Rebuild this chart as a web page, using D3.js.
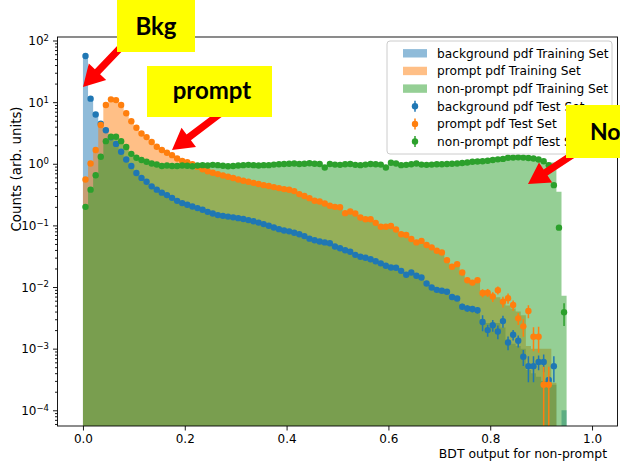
<!DOCTYPE html>
<html>
<head>
<meta charset="utf-8">
<script src="https://cdn.jsdelivr.net/npm/d3@7"></script>
<style>
  body { margin: 0; background: #fff; }
  svg { display: block; }
</style>
</head>
<body>
<div id="chart"></div>
<script>
// 100 bins of width 0.01 on [0, 1]; values per bin (index 0 = [0, 0.01))
const binWidth = 0.01;

const bkgTest = [56, 11.4, 6.3, 4.46, 3.5, 2.7, 2.1, 1.57, 1.17, 0.92,
  0.71, 0.59, 0.51, 0.43, 0.38, 0.34, 0.31, 0.28, 0.25, 0.23,
  0.216, 0.203, 0.191, 0.179, 0.166, 0.156, 0.147, 0.143, 0.139, 0.135,
  0.131, 0.127, 0.122, 0.117, 0.111, 0.105, 0.0986, 0.0925, 0.087, 0.0827,
  0.08, 0.076, 0.072, 0.067, 0.061, 0.0573, 0.0548, 0.053, 0.0513, 0.0454,
  0.0425, 0.0395, 0.0373, 0.0333, 0.031, 0.0298, 0.0282, 0.0262, 0.0242, 0.0222,
  0.0208, 0.0205, 0.0183, 0.0158, 0.0172, 0.0152, 0.0143, 0.0114, 0.0098, 0.009,
  0.0087, 0.0084, 0.0069, 0.0065, 0.0048, 0.0045, 0.0044, 0.0042, 0.0027, 0.002,
  0.0024, 0.0019, 0.0028, 0.00126, 0.00168, 0.00134, 0.00074, 0.00052, 0.00052, 0.00061,
  0.00061, 0.00031, 0.00052, 0, 0];

const promptTest = [0.556, 1.01, 1.67, 4.25, 9.0, 11.1, 10.8, 9.0, 6.6, 4.9,
  3.84, 3.1, 2.71, 2.25, 1.89, 1.67, 1.51, 1.38, 1.22, 1.11,
  1.06, 0.98, 0.894, 0.814, 0.756, 0.714, 0.68, 0.646, 0.615, 0.586,
  0.556, 0.53, 0.51, 0.49, 0.47, 0.45, 0.435, 0.418, 0.403, 0.388,
  0.378, 0.36, 0.322, 0.30, 0.277, 0.251, 0.244, 0.227, 0.208, 0.2,
  0.197, 0.158, 0.168, 0.156, 0.134, 0.126, 0.126, 0.11, 0.095, 0.095,
  0.098, 0.086, 0.072, 0.070, 0.060, 0.053, 0.056, 0.048, 0.044, 0.0387,
  0.0363, 0.0273, 0.0213, 0.0235, 0.0172, 0.0129, 0.0118, 0.0129, 0.008, 0.0081,
  0.007, 0.0089, 0.0058, 0.0066, 0.0051, 0.0031, 0.0023, 0.0041, 0.00156, 0.00156,
  0.00026, 0.00026, 0, 0, 0];

const nonpromptTest = [0.2, 0.38, 0.65, 1.3, 2.33, 2.74, 2.74, 2.33, 1.87, 1.45,
  1.25, 1.15, 1.08, 1.01, 0.975, 0.92, 0.94, 0.92, 0.92, 0.94,
  0.93, 0.91, 0.94, 0.95, 0.94, 0.96, 0.95, 0.93, 0.91, 0.92,
  0.94, 0.95, 0.96, 0.95, 0.94, 0.95, 0.95, 0.97, 0.98, 0.99,
  1.0, 1.01, 0.99, 1.0, 1.02, 1.0, 0.99, 0.87, 0.99, 0.97,
  0.96, 0.98, 0.99, 0.96, 0.95, 0.97, 0.99, 0.98, 0.97, 0.87,
  1.04, 1.01, 0.95, 0.96, 0.98, 1.01, 0.97, 0.96, 0.97, 0.98,
  0.98, 0.99, 1.0, 1.01, 1.03, 1.05, 1.08, 1.09, 1.1, 1.12,
  1.15, 1.18, 1.2, 1.25, 1.26, 1.27, 1.26, 1.24, 1.22, 1.17,
  1.1, 0.95, 0.45, 0.092, 0.0039];

const bkgTrain = [56, 11.4, 6.3, 4.46, 3.5, 2.7, 2.1, 1.57, 1.17, 0.92,
  0.71, 0.59, 0.51, 0.43, 0.38, 0.34, 0.31, 0.28, 0.25, 0.23,
  0.216, 0.203, 0.191, 0.179, 0.166, 0.156, 0.147, 0.143, 0.139, 0.135,
  0.131, 0.127, 0.122, 0.117, 0.111, 0.105, 0.0986, 0.0925, 0.087, 0.0827,
  0.08, 0.076, 0.072, 0.067, 0.061, 0.0573, 0.0548, 0.053, 0.0513, 0.0454,
  0.0425, 0.0395, 0.0373, 0.0333, 0.031, 0.0298, 0.0282, 0.0262, 0.0242, 0.0222,
  0.0208, 0.0205, 0.0183, 0.0165, 0.0165, 0.0152, 0.0143, 0.0114, 0.0098, 0.009,
  0.0088, 0.0082, 0.0072, 0.0064, 0.0052, 0.0047, 0.0043, 0.004, 0.003, 0.0026,
  0.0025, 0.0026, 0.0022, 0.0014, 0.0012, 0.0011, 0.001, 0.00045, 0.0004, 0.00035,
  0.0003, 0.0003, 0.00026, 0, 0.0001];

const promptTrain = [0.556, 1.01, 1.67, 4.25, 9.0, 11.1, 10.8, 9.0, 6.6, 4.9,
  3.84, 3.1, 2.71, 2.25, 1.89, 1.67, 1.51, 1.38, 1.22, 1.11,
  1.06, 0.98, 0.894, 0.814, 0.756, 0.714, 0.68, 0.646, 0.615, 0.586,
  0.556, 0.53, 0.51, 0.49, 0.47, 0.45, 0.435, 0.418, 0.403, 0.388,
  0.378, 0.36, 0.322, 0.30, 0.277, 0.251, 0.244, 0.227, 0.208, 0.2,
  0.197, 0.158, 0.168, 0.156, 0.134, 0.126, 0.126, 0.11, 0.095, 0.095,
  0.098, 0.086, 0.072, 0.070, 0.060, 0.053, 0.056, 0.048, 0.044, 0.0387,
  0.036, 0.029, 0.023, 0.022, 0.018, 0.0135, 0.012, 0.012, 0.0088, 0.0082,
  0.0072, 0.0068, 0.006, 0.005, 0.0045, 0.004, 0.0035, 0.0011, 0.001, 0.001,
  0.001, 0.001, 0.00028, 0, 0];

const nonpromptTrain = [0.2, 0.38, 0.65, 1.3, 2.33, 2.74, 2.74, 2.33, 1.87, 1.45,
  1.25, 1.15, 1.08, 1.01, 0.975, 0.92, 0.94, 0.92, 0.92, 0.94,
  0.93, 0.92, 0.94, 0.95, 0.94, 0.95, 0.95, 0.93, 0.92, 0.92,
  0.94, 0.95, 0.96, 0.95, 0.94, 0.95, 0.95, 0.97, 0.98, 0.99,
  1.0, 1.01, 0.99, 1.0, 1.01, 1.0, 0.99, 0.95, 0.99, 0.97,
  0.96, 0.98, 0.99, 0.96, 0.95, 0.97, 0.99, 0.98, 0.97, 0.95,
  1.0, 1.0, 0.97, 0.96, 0.98, 1.0, 0.97, 0.96, 0.97, 0.98,
  0.98, 0.99, 1.0, 1.01, 1.03, 1.05, 1.08, 1.09, 1.1, 1.12,
  1.15, 1.18, 1.2, 1.25, 1.26, 1.27, 1.26, 1.24, 1.22, 1.17,
  1.1, 1.05, 1.05, 0.35, 0.0072];

// relative errors of the test points, from bin errStart onward (smaller ones hide under the markers)
const errStart = 70;
const bkgErr = [0.08, 0.08, 0.09, 0.09, 0.12, 0.12, 0.12, 0.12, 0.29, 0.22,
  0.22, 0.25, 0.22, 0.25, 0.19, 0.22, 0.29, 0.45, 0.45, 0.27,
  0.32, 0.15, 0.45, 0, 0];
const promptErr = [0.07, 0.07, 0.08, 0.08, 0.1, 0.1, 0.1, 0.1, 0.15, 0.15,
  0.18, 0.15, 0.2, 0.19, 0.19, 0.22, 0.32, 0.24, 0.42, 0.45,
  0.95, 0.95, 0, 0, 0];
const nonpromptErr = [0.02, 0.02, 0.02, 0.02, 0.02, 0.02, 0.02, 0.02, 0.02, 0.02,
  0.02, 0.02, 0.02, 0.02, 0.02, 0.02, 0.02, 0.02, 0.02, 0.02,
  0.02, 0.02, 0.03, 0.06, 0.4];

const xTicks = [0.0, 0.2, 0.4, 0.6, 0.8, 1.0];
const yTickExps = [-4, -3, -2, -1, 0, 1, 2];

const series = [
  {name: "background", color: "#1f77b4", train: bkgTrain, test: bkgTest, err: bkgErr},
  {name: "prompt", color: "#ff7f0e", train: promptTrain, test: promptTest, err: promptErr},
  {name: "non-prompt", color: "#2ca02c", train: nonpromptTrain, test: nonpromptTest, err: nonpromptErr}
];

const width = 620, height = 461;
const margin = {left: 57.5, right: 2.5, top: 37, bottom: 35};
const font = "'DejaVu Sans', sans-serif";

const svg = d3.select("#chart").append("svg")
  .attr("width", width).attr("height", height)
  .style("background", "#fff");

const x = d3.scaleLinear().domain([-0.05, 1.05])
  .range([margin.left, width - margin.right]);
const y = d3.scaleLog().domain([Math.pow(10, -4.255), Math.pow(10, 2.057)])
  .range([height - margin.bottom, margin.top]);

const plotBottom = height - margin.bottom;
const below = plotBottom + 20;

svg.append("clipPath").attr("id", "plot")
  .append("rect")
  .attr("x", margin.left).attr("y", margin.top)
  .attr("width", width - margin.left - margin.right)
  .attr("height", plotBottom - margin.top);

const plot = svg.append("g").attr("clip-path", "url(#plot)");

// training histograms as one step outline each
function histPath(vals) {
  let d = `M${x(0)},${below}`;
  vals.forEach((v, i) => {
    const top = v > 0 ? y(v) : below;
    d += `V${top}H${x((i + 1) * binWidth)}`;
  });
  return d + `V${below}Z`;
}

series.forEach(s => {
  plot.append("path")
    .attr("d", histPath(s.train))
    .attr("fill", s.color)
    .attr("fill-opacity", 0.5);
});

// test points with error bars
series.forEach(s => {
  const pts = s.test.map((v, i) => ({
    v, i, r: i >= errStart ? s.err[i - errStart] : 0
  })).filter(d => d.v > 0);
  const g = plot.append("g");
  g.selectAll("line").data(pts.filter(d => d.r > 0)).join("line")
    .attr("x1", d => x((d.i + 0.5) * binWidth))
    .attr("x2", d => x((d.i + 0.5) * binWidth))
    .attr("y1", d => d.v * (1 - d.r) > 0 ? y(d.v * (1 - d.r)) : below)
    .attr("y2", d => y(d.v * (1 + d.r)))
    .attr("stroke", s.color)
    .attr("stroke-width", 1.5);
  g.selectAll("circle").data(pts).join("circle")
    .attr("cx", d => x((d.i + 0.5) * binWidth))
    .attr("cy", d => y(d.v))
    .attr("r", 3.2)
    .attr("fill", s.color);
});

// axes
svg.append("g")
  .attr("transform", `translate(0,${plotBottom})`)
  .call(d3.axisBottom(x).tickValues(xTicks).tickFormat(d3.format(".1f"))
    .tickSize(4.5).tickPadding(4));

const minorTicks = [];
for (let e = -5; e <= 2; e++) {
  for (let m = 2; m <= 9; m++) {
    const v = m * Math.pow(10, e);
    if (v > y.domain()[0] && v < y.domain()[1]) minorTicks.push(v);
  }
}
svg.append("g")
  .attr("transform", `translate(${margin.left},0)`)
  .call(d3.axisLeft(y).tickValues(minorTicks).tickFormat("").tickSize(2.5));

const yAxis = svg.append("g")
  .attr("transform", `translate(${margin.left},0)`)
  .call(d3.axisLeft(y).tickValues(yTickExps.map(e => Math.pow(10, e)))
    .tickFormat("").tickSize(4.5).tickPadding(4));

yAxis.selectAll(".tick text").each(function(d) {
  const e = Math.round(Math.log10(d));
  const t = d3.select(this).attr("dy", "0.35em");
  t.append("tspan").text("10");
  t.append("tspan").attr("dy", "-0.5em").attr("font-size", 8.5)
    .text(e < 0 ? "\u2212" + (-e) : String(e));
});

svg.selectAll(".domain").remove();
svg.selectAll(".tick line").attr("stroke", "#000").attr("stroke-width", 0.9);
svg.selectAll(".tick text").attr("fill", "#000").style("font-family", font).attr("font-size", 12);

// spines
svg.append("rect")
  .attr("x", margin.left).attr("y", margin.top)
  .attr("width", width - margin.left - margin.right)
  .attr("height", plotBottom - margin.top)
  .attr("fill", "none").attr("stroke", "#000").attr("stroke-width", 0.9);

// axis labels
svg.append("text")
  .attr("x", 607).attr("y", 458)
  .attr("text-anchor", "end")
  .style("font-family", font).attr("font-size", 12.4)
  .text("BDT output for non-prompt");

svg.append("text")
  .attr("transform", `translate(21,${(margin.top + plotBottom) / 2}) rotate(-90)`)
  .attr("text-anchor", "start")
  .style("font-family", font).attr("font-size", 13.4)
  .text("Counts (arb. units)");

// legend
const legend = svg.append("g");
legend.append("rect")
  .attr("x", 387).attr("y", 41).attr("width", 225).attr("height", 113)
  .attr("rx", 3)
  .attr("fill", "#fff").attr("fill-opacity", 0.8)
  .attr("stroke", "#cccccc").attr("stroke-width", 1);

const legendItems = [];
series.forEach(s => legendItems.push({kind: "patch", color: s.color, label: `${s.name} pdf Training Set`}));
series.forEach(s => legendItems.push({kind: "point", color: s.color, label: `${s.name} pdf Test Set`}));

legendItems.forEach((item, k) => {
  const cy = 53.3 + k * 17.65;
  if (item.kind === "patch") {
    legend.append("rect")
      .attr("x", 403).attr("y", cy - 4.2).attr("width", 24).attr("height", 8.4)
      .attr("fill", item.color).attr("fill-opacity", 0.5);
  } else {
    legend.append("line")
      .attr("x1", 415).attr("x2", 415).attr("y1", cy - 5.5).attr("y2", cy + 5.5)
      .attr("stroke", item.color).attr("stroke-width", 1.5);
    legend.append("circle")
      .attr("cx", 415).attr("cy", cy).attr("r", 3.2).attr("fill", item.color);
  }
  legend.append("text")
    .attr("x", 437).attr("y", cy).attr("dy", "0.35em")
    .style("font-family", font).attr("font-size", 12.2)
    .text(item.label);
});

// overlaid annotations: red arrows under yellow labels
function arrowPoints(tail, tip, w, hw, hl) {
  const dx = tip[0] - tail[0], dy = tip[1] - tail[1];
  const len = Math.hypot(dx, dy);
  const ux = dx / len, uy = dy / len, nx = -uy, ny = ux;
  const bx = tip[0] - ux * hl, by = tip[1] - uy * hl;
  return [
    [tail[0] + nx * w, tail[1] + ny * w],
    [bx + nx * w, by + ny * w],
    [bx + nx * hw, by + ny * hw],
    tip,
    [bx - nx * hw, by - ny * hw],
    [bx - nx * w, by - ny * w],
    [tail[0] - nx * w, tail[1] - ny * w]
  ];
}

const notes = [
  {text: "Bkg", box: [117, 0, 78, 52], tx: 156, ty: 35, anchor: "middle", size: 24, tail: [124, 44], tip: [83, 87]},
  {text: "prompt", box: [147, 66, 125, 51], tx: 212, ty: 99, anchor: "middle", size: 24, tail: [225, 110], tip: [172, 150]},
  {text: "No", box: [566, 105, 60, 53], tx: 590, ty: 140, anchor: "start", size: 23, tail: [586, 146], tip: [528, 184]}
];

notes.forEach(n => {
  svg.append("polygon")
    .attr("points", arrowPoints(n.tail, n.tip, 3.6, 12, 21).map(p => p.join(",")).join(" "))
    .attr("fill", "#ff0000");
});
notes.forEach(n => {
  svg.append("rect")
    .attr("x", n.box[0]).attr("y", n.box[1])
    .attr("width", n.box[2]).attr("height", n.box[3])
    .attr("fill", "#ffff00");
  svg.append("text")
    .attr("x", n.tx).attr("y", n.ty)
    .attr("text-anchor", n.anchor)
    .style("font-family", "Lato, 'Open Sans', sans-serif")
    .attr("font-weight", 700).attr("font-size", n.size)
    .attr("fill", "#000")
    .text(n.text);
});
</script>
</body>
</html>
